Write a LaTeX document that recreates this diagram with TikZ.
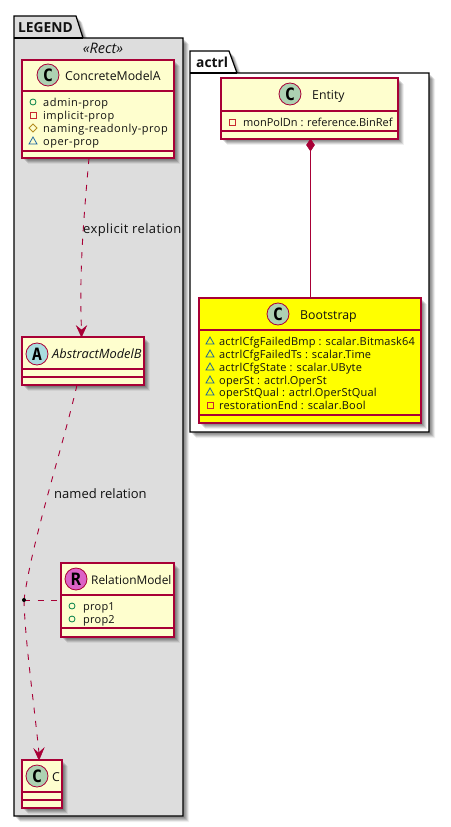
\documentclass[tikz,border=0pt]{standalone}
\usepackage{fontspec}
\setmainfont{Open Sans}
\newfontfamily\spotfont{DejaVu Sans Mono}
\usetikzlibrary{shadows,arrows.meta}
\definecolor{umlred}{HTML}{A80036}
\definecolor{umlfill}{HTML}{FEFECE}
\definecolor{spotC}{HTML}{ADD1B2}
\definecolor{spotA}{HTML}{A9DCDF}
\definecolor{spotR}{HTML}{DB62C6}
\definecolor{pkgfill}{HTML}{DDDDDD}
\definecolor{pureyellow}{HTML}{FFFF00}
\definecolor{icoPub}{HTML}{038048}
\definecolor{icoPriv}{HTML}{C82930}
\definecolor{icoProt}{HTML}{B38D22}
\definecolor{icoPack}{HTML}{1963A0}
\definecolor{txt}{HTML}{111111}
\tikzset{
  softshadow/.style={
    general shadow={fill=black,fill opacity=.12,shadow xshift=2pt,shadow yshift=-2pt},
    general shadow={fill=black,fill opacity=.12,shadow xshift=3pt,shadow yshift=-3pt},
    general shadow={fill=black,fill opacity=.12,shadow xshift=4pt,shadow yshift=-4pt},
    general shadow={fill=black,fill opacity=.1,shadow xshift=5pt,shadow yshift=-5pt},
    general shadow={fill=black,fill opacity=.06,shadow xshift=6pt,shadow yshift=-6pt}},
  pkg/.style={draw=black,line width=1.2pt,softshadow,line join=miter},
  classbox/.style={draw=umlred,line width=1.2pt,fill=umlfill,softshadow,anchor=north west,inner sep=0pt,outer sep=0pt},
  sepline/.style={draw=umlred,line width=1.1pt},
  spot/.style={circle,draw=umlred,line width=.8pt,minimum size=22pt,inner sep=0pt,outer sep=0pt},
  spotletter/.style={font=\spotfont\bfseries\fontsize{17}{17}\selectfont,text=black},
  cname/.style={anchor=west,inner sep=0pt,text height=8pt,text depth=0pt,font=\fontsize{12.3}{14}\selectfont,text=txt},
  attr/.style={anchor=west,inner sep=0pt,text height=8pt,text depth=0pt,font=\fontsize{11}{13}\selectfont,text=txt},
  pkgtitle/.style={anchor=west,inner sep=0pt,text height=10pt,text depth=0pt,font=\bfseries\fontsize{13.8}{15}\selectfont,text=txt},
  edgelabel/.style={anchor=west,inner sep=0pt,text height=6pt,text depth=0pt,font=\fontsize{13}{15}\selectfont,text=txt},
  rel/.style={draw=umlred,line width=.9pt},
  reldash/.style={rel,dash pattern=on 6pt off 7.5pt},
  tip/.style={fill=umlred,draw=umlred,line width=.5pt,line join=miter},
  icoA/.style={draw=icoPub,line width=.8pt},
  icoB/.style={draw=icoPriv,line width=.8pt},
  icoC/.style={draw=icoProt,line width=.8pt},
  icoD/.style={draw=icoPack,line width=.8pt},
}
% box name, x, y, w, h, fill, sep1, sep2
\newcommand{\umlclass}[8]{%
  \node[classbox,fill=#6,minimum width=#4pt,minimum height=#5pt] (#1) at (#2,#3) {};
  \coordinate (#1s1) at (#2,#7); \coordinate (#1s2) at (#2,#8);
  \draw[sepline] (#1s1) -- (#1s1 -| #1.east);
  \draw[sepline] (#1s2) -- (#1s2 -| #1.east);
}
\newcommand{\wide}[1]{\addfontfeature{LetterSpace=#1}}
\newcommand{\icoPubM}[2]{\draw[icoA] (#1,#2) circle (3pt);}
\newcommand{\icoPrivM}[2]{\draw[icoB] (#1-3,#2-3) rectangle (#1+3,#2+3);}
\newcommand{\icoProtM}[2]{\draw[icoC] (#1-4,#2) -- (#1,#2-4) -- (#1+4,#2) -- (#1,#2+4) -- cycle;}
\newcommand{\icoPackM}[2]{\draw[icoD] (#1-4,#2+3) -- (#1,#2-4) -- (#1+4,#2+3) -- cycle;}
\begin{document}
\begin{tikzpicture}[x=1pt,y=-1pt]
\useasboundingbox (0,0) rectangle (450,827);
% LEGEND package
\draw[pkg,fill=pkgfill] (14,38) -- (14,16) -- (76,16) -- (83,38) -- (183,38) -- (183,816) -- (14,816) -- cycle;
\draw[draw=black,line width=1.2pt] (14,38) -- (83,38);
\node[pkgtitle] (legendtitle) at (18,27) {LEGEND};
\node[inner sep=0pt,text height=8pt,text depth=0pt,font=\itshape\fontsize{14.5}{15}\selectfont,text=txt] (stereo) at (103,49) {«Rect»};
% actrl package
\draw[pkg,fill=white] (190,73) -- (190,51) -- (229,51) -- (237,73) -- (429,73) -- (429,432) -- (190,432) -- cycle;
\draw[draw=black,line width=1.2pt] (190,73) -- (237,73);
\node[pkgtitle] (actrltitle) at (196,62) {actrl};
% ConcreteModelA
\umlclass{cma}{22}{60}{152}{98}{umlfill}{91}{151}
\node[spot,fill=spotC] (cmaspot) at (48,75) {};
\node[spotletter] at (cmaspot) {C};
\node[cname] (cmaname) at (65,76) {ConcreteModelA};
\icoPubM{33}{102}\node[attr] (a1) at (43,102) {\wide{4.5}admin-prop};
\icoPrivM{33}{115}\node[attr] (a2) at (43,115) {\wide{4.5}implicit-prop};
\icoProtM{33}{128}\node[attr] (a3) at (43,128) {\wide{4.5}naming-readonly-prop};
\icoPackM{33}{141}\node[attr] (a4) at (43,141) {\wide{4.5}oper-prop};
% AbstractModelB
\umlclass{amb}{22}{337}{122}{48}{umlfill}{369}{377}
\node[spot,fill=spotA] (ambspot) at (37,354) {};
\node[spotletter] at (ambspot) {A};
\node[cname,font=\itshape\fontsize{12.8}{14}\selectfont] (ambname) at (52,354) {AbstractModelB};
% RelationModel
\umlclass{rm}{61}{563}{113}{74}{umlfill}{595}{628}
\node[spot,fill=spotR] (rmspot) at (76,579) {};
\node[spotletter] at (rmspot) {R};
\node[cname,font=\fontsize{11.9}{14}\selectfont] (rmname) at (91,580) {RelationModel};
\icoPubM{72}{606}\node[attr] (r1) at (83,606) {\wide{2}prop1};
\icoPubM{72}{619}\node[attr] (r2) at (83,619) {\wide{2}prop2};
% C
\umlclass{cc}{22}{760}{40}{48}{umlfill}{792}{800}
\node[spot,fill=spotC] (ccspot) at (37,776) {};
\node[spotletter] at (ccspot) {C};
\node[cname] (ccname) at (52,777) {C};
% Entity
\umlclass{ent}{221}{78}{177}{61}{umlfill}{111}{131}
\node[spot,fill=spotC] (entspot) at (290,94) {};
\node[spotletter] at (entspot) {C};
\node[cname] (entname) at (312,95) {Entity};
\icoPrivM{232}{122}\node[attr] (e1) at (243,122) {monPolDn : reference.BinRef};
% Bootstrap
\umlclass{bs}{199}{298}{222}{125}{pureyellow}{330}{415}
\node[spot,fill=spotC] (bsspot) at (278,314) {};
\node[spotletter] at (bsspot) {C};
\node[cname] (bsname) at (300,315) {Bootstrap};
\icoPackM{210}{341}\node[attr] (b1) at (219,341) {\wide{1.6}actrlCfgFailedBmp : scalar.Bitmask64};
\icoPackM{210}{354}\node[attr] (b2) at (219,354) {\wide{1.6}actrlCfgFailedTs : scalar.Time};
\icoPackM{210}{367}\node[attr] (b3) at (219,367) {\wide{1.6}actrlCfgState : scalar.UByte};
\icoPackM{210}{380}\node[attr] (b4) at (219,380) {\wide{1.6}operSt : actrl.OperSt};
\icoPackM{210}{392}\node[attr] (b5) at (219,392) {\wide{1.6}operStQual : actrl.OperStQual};
\icoPrivM{210}{405}\node[attr] (b6) at (219,405) {\wide{1.6}restorationEnd : scalar.Bool};
% Connectors
\coordinate (cmaout) at (cma.south -| 89,0);
\coordinate (ambin) at (amb.north -| 81.5,0);
\coordinate (ambout) at (amb.south -| 77,0);
\coordinate (ccin) at (cc.north -| 39,0);
\coordinate (rmin) at (rm.west |- 0,600);
\coordinate (dotc) at (24,600);
\draw[reldash] (cmaout) .. controls (84,215) and (79,270) .. (81.5,330);
\draw[tip] (ambin) -- (76.5,326) -- (81.5,330) -- (86.5,326) -- cycle;
\draw[reldash] (ambout) .. controls (62,450) and (32,540) .. (dotc);
\draw[reldash] (dotc) .. controls (25,640) and (33,695) .. (39,753);
\draw[tip] (ccin) -- (34,749) -- (38.5,753) -- (44,748) -- cycle;
\draw[reldash] (dotc) -- (rmin);
\node[circle,fill=black,minimum size=4pt,inner sep=0pt] (dot) at (dotc) {};
\coordinate (entbot) at (ent.south -| 310.5,0);
\coordinate (bstop) at (bs.north -| 310.5,0);
\draw[rel] (entbot) -- (bstop);
\draw[tip] (entbot) -- ++(-4,6) -- ++(4,6) -- ++(4,-6) -- cycle;
\node[edgelabel,font=\fontsize{13}{15}\selectfont\addfontfeature{LetterSpace=3}] (lab1) at (83,230) {explicit relation};
\node[edgelabel] (lab2) at (54,495) {named relation};
\end{tikzpicture}
\end{document}
